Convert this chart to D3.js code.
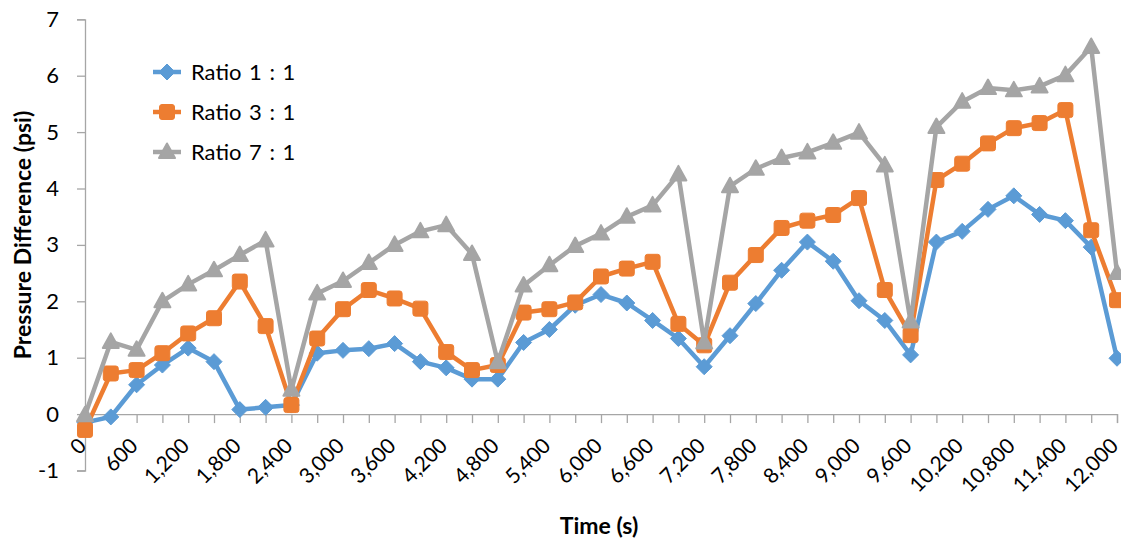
<!DOCTYPE html>
<html><head><meta charset="utf-8">
<script src="https://cdn.jsdelivr.net/npm/d3@7"></script>
<style>body{margin:0;background:#fff}svg{display:block}text{font-family:Lato,"Open Sans",sans-serif;fill:#000}</style>
</head><body><svg id="c" width="1121" height="539"></svg>
<script>
const times = d3.range(0, 12001, 300);
const ratio1 = [-0.15,-0.05,0.52,0.87,1.17,0.93,0.08,0.12,0.16,1.08,1.13,1.16,1.25,0.93,0.82,0.62,0.62,1.27,1.5,1.93,2.12,1.97,1.66,1.34,0.84,1.39,1.96,2.55,3.05,2.71,2.01,1.66,1.05,3.05,3.24,3.63,3.87,3.54,3.43,2.96,0.99];
const ratio3 = [-0.28,0.72,0.78,1.08,1.43,1.7,2.35,1.56,0.16,1.34,1.86,2.2,2.05,1.87,1.1,0.78,0.87,1.8,1.86,1.98,2.44,2.58,2.7,1.6,1.22,2.33,2.82,3.3,3.43,3.53,3.83,2.2,1.4,4.15,4.44,4.8,5.07,5.16,5.39,3.26,2.02];
const ratio7 = [-0.02,1.28,1.14,2.0,2.3,2.55,2.82,3.08,0.43,2.14,2.36,2.68,3.0,3.24,3.35,2.84,0.92,2.28,2.64,2.98,3.2,3.5,3.7,4.25,1.27,4.04,4.35,4.54,4.64,4.81,4.99,4.41,1.64,5.09,5.54,5.78,5.74,5.81,6.01,6.51,2.5];
const seriesNames = ["Ratio 1 : 1","Ratio 3 : 1","Ratio 7 : 1"];
const colors = ["#5B9BD5","#ED7D31","#A5A5A5"];
const xLabelTicks = d3.range(0, 12001, 600);
const xMinorTicks = d3.range(0, 12001, 300);
const yTicks = [-1,0,1,2,3,4,5,6,7];

const svg = d3.select("#c");
const x = d3.scaleLinear().domain([0,12000]).range([85,1117]);
const y = d3.scaleLinear().domain([-1,7]).range([470.5,19.3]);
const axisColor = "#a6a6a6";

// y axis
const ya = svg.append("g").attr("transform","translate(85,0)")
  .call(d3.axisLeft(y).tickValues(yTicks).tickSize(8).tickPadding(18).tickFormat(d=>String(d)));
ya.select(".domain").attr("stroke",axisColor).attr("stroke-width",1.3);
ya.selectAll(".tick line").attr("stroke",axisColor).attr("stroke-width",1.3);
ya.selectAll(".tick text").attr("font-size",22).attr("font-family","Lato,sans-serif").attr("fill","#000");

// x axis at y=0
const xa = svg.append("g").attr("transform",`translate(0,${y(0)})`)
  .call(d3.axisBottom(x).tickValues(xMinorTicks).tickSize(9).tickFormat(""));
xa.select(".domain").attr("stroke",axisColor).attr("stroke-width",1.3);
xa.selectAll(".tick line").attr("stroke",axisColor).attr("stroke-width",1.3);
svg.append("g").selectAll("text").data(xLabelTicks).join("text")
  .attr("transform",d=>`translate(${x(d)+2.5},${y(0)+33}) rotate(-45)`)
  .attr("text-anchor","end")
  .attr("font-size",21).text(d3.format(","));

// titles
svg.append("text").attr("transform","translate(31,235) rotate(-90)")
  .attr("text-anchor","middle").attr("font-size",23).attr("font-weight","bold")
  .text("Pressure Difference (psi)");
svg.append("text").attr("x",599).attr("y",534).attr("text-anchor","middle")
  .attr("font-size",23).attr("font-weight","bold").text("Time (s)");

function marker(g, i){
  if(i===0) return g.append("path").attr("d","M0,-8L8,0L0,8L-8,0Z");
  if(i===1) return g.append("rect").attr("x",-7.5).attr("y",-7.5).attr("width",15).attr("height",15).attr("rx",2.5);
  return g.append("path").attr("d","M0,-8.5L8,6L-8,6Z").attr("stroke-linejoin","round").attr("stroke-width",2);
}

const data = [ratio1, ratio3, ratio7];
const line = d3.line().x((d,i)=>x(times[i])).y(d=>y(d));
data.forEach((vals,si)=>{
  const g = svg.append("g");
  g.append("path").datum(vals).attr("d",line).attr("fill","none")
    .attr("stroke",colors[si]).attr("stroke-width",4.5).attr("stroke-linejoin","round");
  vals.forEach((v,i)=>{
    const mg = g.append("g").attr("transform",`translate(${x(times[i])},${y(v)})`);
    marker(mg, si).attr("fill",colors[si]).attr("stroke",colors[si]);
  });
});

// legend
const legY = [72,112,152];
seriesNames.forEach((n,si)=>{
  const g = svg.append("g").attr("transform",`translate(0,${legY[si]})`);
  g.append("line").attr("x1",153).attr("x2",181).attr("y1",0).attr("y2",0)
    .attr("stroke",colors[si]).attr("stroke-width",4.5);
  const mg = g.append("g").attr("transform","translate(167,0)");
  marker(mg, si).attr("fill",colors[si]).attr("stroke",colors[si]);
  g.append("text").attr("x",191).attr("y",0).attr("dy","0.36em").attr("font-size",22)
    .attr("word-spacing","2px").text(n);
});
</script></body></html>
